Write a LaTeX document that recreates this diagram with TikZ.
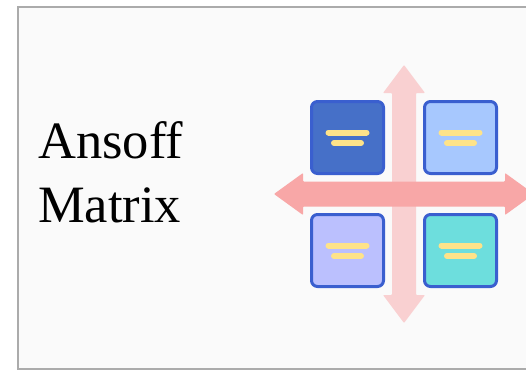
\documentclass[tikz,border=0pt]{standalone}
\usepackage{fontspec}
\setmainfont{Liberation Serif}
\definecolor{frameline}{HTML}{ABABAB}
\definecolor{paper}{HTML}{FAFAFA}
\definecolor{vpink}{HTML}{F9D0D1}
\definecolor{hpink}{HTML}{F8A7A7}
\definecolor{tileedge}{HTML}{3A5FCF}
\definecolor{tileA}{HTML}{4670C8}
\definecolor{tileB}{HTML}{A7C8FE}
\definecolor{tileC}{HTML}{BBC0FE}
\definecolor{tileD}{HTML}{6DDEDD}
\definecolor{barcol}{HTML}{FEE389}
\tikzset{
  tile/.style={draw=tileedge, line width=3pt, rounded corners=6pt,
    minimum width=72pt, minimum height=72pt, inner sep=0pt},
  bar/.style={draw=barcol, line width=6pt, line cap=round},
  title/.style={font=\fontsize{52.5pt}{64pt}\selectfont, anchor=base west, inner sep=0pt}
}
\begin{document}
\begin{tikzpicture}[x=1pt, y=-1pt]
\useasboundingbox (0,0) rectangle (526,370);
% page frame
\fill[white] (0,0) rectangle (526,370);
\draw[frameline, line width=2.2pt, fill=paper] (18,7) rectangle (540,369);
% title
\node[title] (t1) at (38,158.3) {Ansoff};
\node[title] (t2) at (38,222.7) {Matrix};
% vertical double arrow
\fill[vpink, rounded corners=0.8pt] (404,65) -- (425,93) -- (416,93) -- (416,295) -- (425,295)
  -- (404,323) -- (383,295) -- (392,295) -- (392,93) -- (383,93) -- cycle;
% horizontal double arrow
\fill[hpink, rounded corners=0.8pt] (274,194) -- (303,173) -- (303,181.5) -- (505,181.5) -- (505,173)
  -- (534,194) -- (505,215) -- (505,206.5) -- (303,206.5) -- (303,215) -- cycle;
% quadrant tiles
\node[tile, fill=tileA] (q1) at (347.5,137.5) {};
\node[tile, fill=tileB] (q2) at (460.5,137.5) {};
\node[tile, fill=tileC] (q3) at (347.5,250.5) {};
\node[tile, fill=tileD] (q4) at (460.5,250.5) {};
% text bars on each tile
\foreach \q in {q1,q2,q3,q4}{
  \draw[bar] ([shift={(-19,-5)}]\q.center) -- ([shift={(19,-5)}]\q.center);
  \draw[bar] ([shift={(-13.5,5.5)}]\q.center) -- ([shift={(13.5,5.5)}]\q.center);
}
\end{tikzpicture}
\end{document}
